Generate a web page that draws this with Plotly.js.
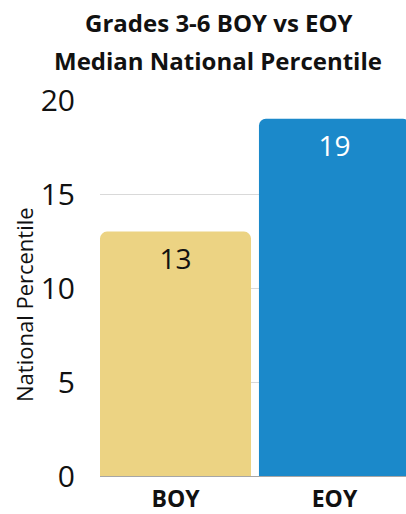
<!DOCTYPE html>
<html>
<head>
<meta charset="utf-8">
<script src="https://cdn.plot.ly/plotly-3.0.1.min.js"></script>
<style>html,body{margin:0;padding:0;background:#fff;}#chart{width:406px;height:514px;}</style>
</head>
<body>
<div id="chart"></div>
<script>
const categories = ["BOY", "EOY"];
const values = [13, 19];
const barColors = ["#ECD383", "#1B89CA"];
const textColors = ["#111111", "#ffffff"];
const yTicks = [0, 5, 10, 15, 20];
const titleLines = ["Grades 3-6 BOY vs EOY", "Median National Percentile"];
const yAxisTitle = "National Percentile";
const FONT = "Open Sans, sans-serif";

const trace = {
  type: "bar",
  x: categories,
  y: values,
  text: values.map(String),
  textposition: "inside",
  insidetextanchor: "end",
  textfont: {family: FONT, size: 28, color: textColors},
  marker: {color: barColors, cornerradius: 7},
  hoverinfo: "none"
};

const layout = {
  width: 406, height: 514,
  margin: {l: 100, r: 0, t: 100, b: 38},
  paper_bgcolor: "#fff", plot_bgcolor: "#fff",
  bargap: 0.05,
  showlegend: false,
  title: {
    text: "<b>" + titleLines[0] + "</b>",
    font: {family: FONT, size: 24, color: "#111"},
    xref: "container", yref: "container",
    x: 0.539, xanchor: "center", y: 1 - 24 / 514, yanchor: "middle"
  },
  annotations: [{
    text: "<b>" + titleLines[1] + "</b>",
    font: {family: FONT, size: 24, color: "#111"},
    xref: "paper", yref: "paper",
    x: (218 - 100) / 306, y: (476 - 61) / 376,
    xanchor: "center", yanchor: "middle", showarrow: false
  }, {
    text: yAxisTitle,
    font: {family: FONT, size: 22, color: "#111"},
    textangle: -90,
    xref: "paper", yref: "paper",
    x: (24 - 100) / 306, y: (476 - 305) / 376,
    xanchor: "center", yanchor: "middle", showarrow: false
  }],
  xaxis: {
    range: [-0.475, 1.45],
    tickfont: {family: FONT, size: 23, color: "#111", weight: "bold"},
    showgrid: false, zeroline: false, showline: false,
    ticks: "", ticklabelstandoff: 7
  },
  yaxis: {
    range: [0, 20],
    tickvals: yTicks,
    tickfont: {family: FONT, size: 30, color: "#111"},
    showgrid: true, gridcolor: "#d9d9d9", gridwidth: 1,
    zeroline: true, zerolinecolor: "#a6a6a6", zerolinewidth: 1,
    showline: false, ticks: "", ticklabelstandoff: 24
  }
};

Plotly.newPlot("chart", [trace], layout, {staticPlot: true, displayModeBar: false});
</script>
</body>
</html>
